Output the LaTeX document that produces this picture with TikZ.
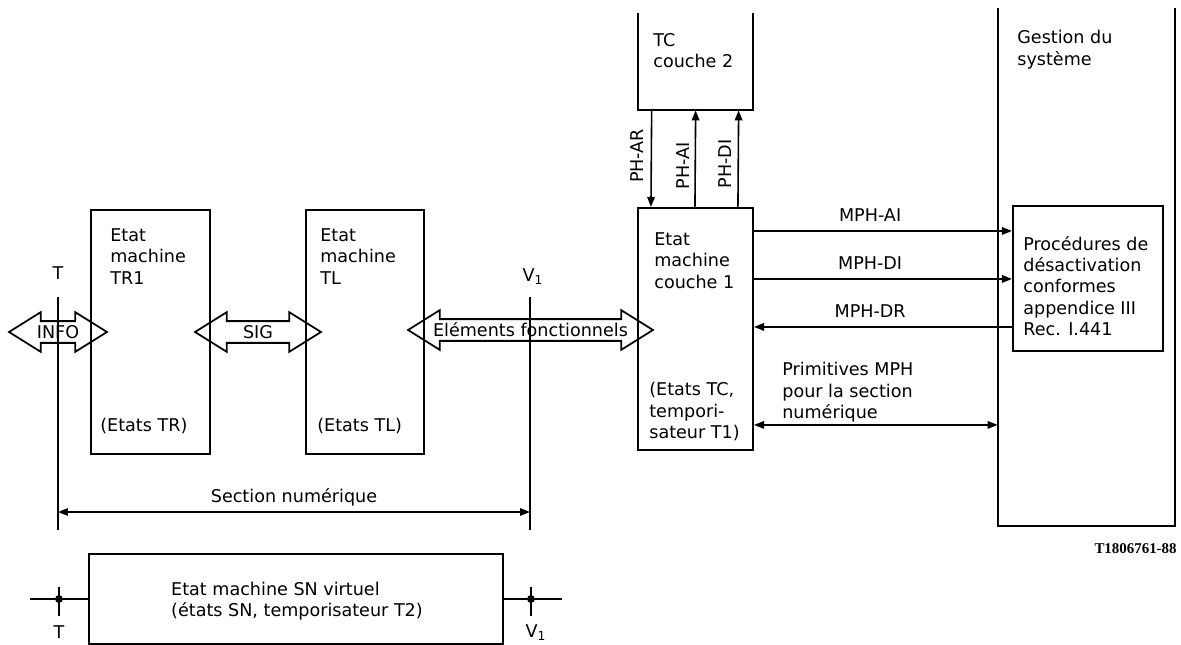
\documentclass[tikz,border=0pt]{standalone}
\usepackage{fontspec}
\setmainfont{DejaVu Sans}
\newfontfamily\refnumfont{Liberation Serif}
\usepackage{tikz}
\usetikzlibrary{shapes,arrows.meta,positioning,calc}

\begin{document}
\begin{tikzpicture}[
    x=0.02cm, y=-0.02cm,
    font=\fontsize{10}{12.2}\selectfont,
    box/.style={rectangle, draw, line width=1.2pt, inner sep=0pt},
    frame/.style={rectangle, inner sep=0pt},
    txt/.style={align=left, inner sep=0pt, anchor=north west},
    arrow/.style={-{Triangle[length=2mm, width=1.5mm]}, line width=0.9pt},
    biarrow/.style={{Triangle[length=2mm, width=1.5mm]}-{Triangle[length=2mm, width=1.5mm]}, line width=0.9pt},
    fat/.style={double arrow, draw, line width=1pt, inner sep=0.2cm, minimum width=0.76cm,
        double arrow head extend=0.18cm, double arrow tip angle=64},
    dot/.style={circle, fill, inner sep=0pt, minimum size=4.5pt}
]
    \useasboundingbox (0,0) rectangle (1181,645);

    % Etat machine TR1
    \node[box, minimum width=2.38cm, minimum height=4.88cm] (tr) at (150.5,332) {};
    \node[txt] (trname) at (110,228) {Etat\\machine\\TR1};
    \node[anchor=base west, inner sep=0pt] (trstate) at (100,432) {(Etats TR)};

    % Etat machine TL
    \node[box, minimum width=2.36cm, minimum height=4.88cm] (tl) at (365,332) {};
    \node[txt] (tlname) at (320,228) {Etat\\machine\\TL};
    \node[anchor=base west, inner sep=0pt] (tlstate) at (317,432) {(Etats TL)};

    % Etat machine couche 1
    \node[box, minimum width=2.3cm, minimum height=4.84cm] (c1) at (695.5,329) {};
    \node[txt] (c1name) at (654,232) {Etat\\machine\\couche 1};
    \node[txt] (c1state) at (649,382) {(Etats TC,\\tempori-\\sateur T1)};

    % TC couche 2 (open at the top)
    \node[frame, minimum width=2.3cm, minimum height=1.94cm] (tc) at (695.5,61.5) {};
    \draw[line width=1.2pt] (tc.north west) |- (tc.south east) -- (tc.north east);
    \node[txt] (tcname) at (653,33) {TC\\couche 2};

    % Gestion du systeme (open at the top)
    \node[frame, minimum width=3.54cm, minimum height=10.36cm] (gest) at (1086.5,267) {};
    \draw[line width=1.2pt] (gest.north west) |- (gest.south east) -- (gest.north east);
    \node[txt] (gestname) at (1017,30) {Gestion du\\système};

    % Procedures de desactivation
    \node[box, minimum width=3.0cm, minimum height=2.9cm] (proc) at (1088,278.5) {};
    \node[align=left, inner sep=0pt, anchor=west] (proctxt) at (1023,286)
        {Procédures de\\désactivation\\conformes\\appendice III\\Rec. I.441};

    % Points de reference T et V1
    \node (tlab) at (58,273) {T};
    \node (vlab) at (533,277) {V\textsubscript{1}};
    \coordinate (ttop) at (58,297);
    \coordinate (tbot) at (58,530);
    \coordinate (vtop) at (530,297);
    \coordinate (vbot) at (530,530);
    \draw[line width=0.9pt] (ttop) -- (tbot);
    \draw[line width=0.9pt] (vtop) -- (vbot);

    % Fleches doubles
    \node[fat, minimum height=1.96cm] (info) at (58,332) {};
    \node (infotxt) at (info) {INFO};
    \node[fat, minimum height=2.52cm] (sig) at (258,332) {};
    \node (sigtxt) at (sig) {SIG};
    \node[fat, minimum height=4.9cm] (elem) at (530.5,330) {};
    \node (elemtxt) at (elem) {Eléments fonctionnels};

    % Section numerique
    \draw[biarrow] ([yshift=0.36cm]tbot) -- ([yshift=0.36cm]vbot)
        node[midway, above=3pt, inner sep=0pt] (sect) {Section numérique};

    % Primitives PH
    \draw[arrow] ([xshift=0.28cm]tc.south west) -- ([xshift=0.28cm]c1.north west);
    \draw[arrow] ([xshift=1.16cm]c1.north west) -- ([xshift=1.16cm]tc.south west);
    \draw[arrow] ([xshift=2.02cm]c1.north west) -- ([xshift=2.02cm]tc.south west);
    \node[rotate=90, inner sep=0pt] (phar) at (637,156) {PH-AR};
    \node[rotate=90, inner sep=0pt] (phai) at (683,166) {PH-AI};
    \node[rotate=90, inner sep=0pt] (phdi) at (725,164) {PH-DI};

    % Primitives MPH
    \coordinate (ai) at ([yshift=-0.48cm]c1.north east);
    \coordinate (di) at ([yshift=-1.44cm]c1.north east);
    \coordinate (dr) at ([yshift=-2.4cm]c1.north east);
    \coordinate (pr) at ([yshift=-4.36cm]c1.north east);
    \draw[arrow] (ai) -- (ai -| proc.west)
        node[pos=0.45, above=5pt, inner sep=0pt] (mphai) {MPH-AI};
    \draw[arrow] (di) -- (di -| proc.west)
        node[pos=0.45, above=5pt, inner sep=0pt] (mphdi) {MPH-DI};
    \draw[arrow] (dr -| proc.west) -- (dr)
        node[pos=0.55, above=5pt, inner sep=0pt] (mphdr) {MPH-DR};
    \draw[biarrow] (pr) -- (pr -| gest.west);
    \node[txt] (primtxt) at (782,362) {Primitives MPH\\pour la section\\numérique};

    % Etat machine SN virtuel
    \node[box, minimum width=8.28cm, minimum height=1.8cm] (sn) at (296,599) {};
    \node[align=left, inner sep=0pt] (sntxt) at (297,601)
        {Etat machine SN virtuel\\(états SN, temporisateur T2)};
    \node[dot] (tdot) at (59,599) {};
    \node[dot] (vdot) at (531,599) {};
    \coordinate (tleft) at (30,599);
    \coordinate (vright) at (562,599);
    \draw[line width=1pt] (tleft) -- (sn.west);
    \draw[line width=1pt] (sn.east) -- (vright);
    \draw[line width=0.9pt] ([yshift=0.24cm]tdot.center) -- ([yshift=-0.34cm]tdot.center);
    \draw[line width=0.9pt] ([yshift=0.24cm]vdot.center) -- ([yshift=-0.34cm]vdot.center);
    \node (tsn) at (59,632) {T};
    \node (vsn) at (536,633) {V\textsubscript{1}};

    % Reference de la figure
    \node[anchor=base east, inner sep=0pt, font=\refnumfont\bfseries\fontsize{8.5}{10}\selectfont] (fignum)
        at (1177,553) {T1806761-88};
\end{tikzpicture}
\end{document}
